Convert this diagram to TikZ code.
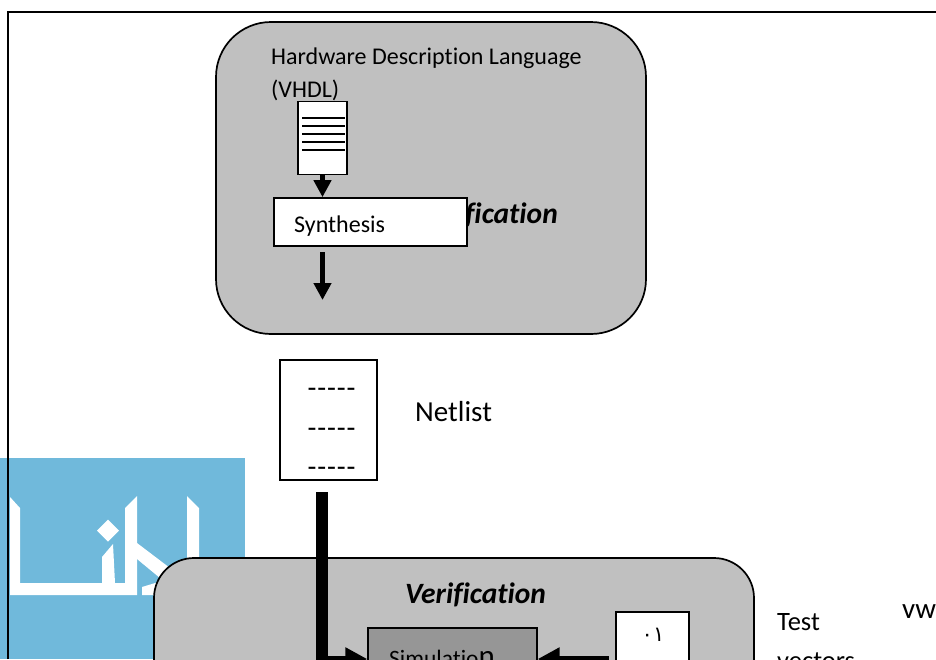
\documentclass[tikz,border=0pt]{standalone}
\usepackage{fontspec}
\setmainfont[Ligatures={NoCommon}]{Carlito}
\newfontfamily\arabicfont[Script=Arabic]{DejaVu Sans}
\usetikzlibrary{arrows.meta}
\definecolor{panelgray}{HTML}{C0C0C0}
\definecolor{simgray}{HTML}{969696}
\definecolor{markblue}{HTML}{70B9DB}
\newcommand{\dashrow}{-\kern0.9pt-\kern0.9pt-\kern0.9pt-\kern0.9pt-}
\tikzset{
  panel/.style={draw=black,line width=1.7pt,fill=panelgray,rounded corners=#1,inner sep=0pt},
  whitebox/.style={draw=black,line width=1.7pt,fill=white,inner sep=0pt},
  label/.style={anchor=base west,inner sep=0pt,text=black},
  docline/.style={line width=1.3pt,black},
  smallarrow/.style={line width=5.5pt,-{Triangle[length=17pt,width=17pt]},black,shorten >=0pt},
  thickarrow/.style={line width=6pt,-{Triangle[length=22pt,width=22pt]},black}
}
\begin{document}
\begin{tikzpicture}[x=1pt,y=-1pt]
\useasboundingbox (0,0) rectangle (936,659);
\clip (0,0) rectangle (936,659);
\fill[white] (0,0) rectangle (936,659);
% watermark
\fill[markblue] (0,458) rectangle (245,659);
\fill[white] (10,497) -- (20,508) -- (20,583) -- (102,583) -- (102,557) -- (113,544) -- (115,583) -- (125,583) -- (125,508) -- (137,496) -- (137,595) -- (10,595) -- cycle;
\fill[white] (137,543) -- (170,568) -- (160,578) -- (137,559) -- cycle;
\fill[white] (142,587) -- (165,580) -- (165,595) -- (142,595) -- cycle;
\fill[white] (187,496) -- (199,508) -- (199,600) -- (187,600) -- cycle;
\fill[white] (108,519.5) -- (119,530.5) -- (108,541.5) -- (97,530.5) -- cycle;
% frame
\draw[line width=1.4pt] (8,659) -- (8,12) -- (936,12);
% upper panel
\node[panel=55pt,minimum width=430pt,minimum height=312pt] (hdlpanel) at (431,178) {};
\node[label] (hdltitle) at (271,64) {\fontsize{24pt}{24pt}\selectfont Hardware Description Language};
\node[label] (hdlsub) at (271,97) {\fontsize{24pt}{24pt}\selectfont (VHDL)};
\node[label,anchor=base east] (hiddenverif) at (558,223) {\fontsize{29.5pt}{30pt}\selectfont\bfseries\itshape Verification};
\node[whitebox,minimum width=49pt,minimum height=73pt] (doc) at (322.5,138) {};
\foreach \ly in {118,126,134,142,150} \draw[docline] (302,\ly) -- (345,\ly);
\node[whitebox,minimum width=193pt,minimum height=48pt] (synth) at (370.5,222) {};
\node[label] (synthlabel) at (294,232) {\fontsize{24pt}{24pt}\selectfont Synthesis};
\draw[smallarrow] (doc.south) -- (doc.south |- synth.north);
\coordinate (synthout) at (322.5,252);
\coordinate (synthtip) at (322.5,300);
\draw[smallarrow] (synthout) -- (synthtip);
% netlist
\node[whitebox,minimum width=97pt,minimum height=120pt] (netlist) at (328.5,420) {};
\node[inner sep=0pt,anchor=base] (d1) at (331.5,397) {\fontsize{29pt}{30pt}\selectfont \dashrow};
\node[inner sep=0pt,anchor=base] (d2) at (331.5,437) {\fontsize{29pt}{30pt}\selectfont \dashrow};
\node[inner sep=0pt,anchor=base] (d3) at (331.5,476) {\fontsize{29pt}{30pt}\selectfont \dashrow};
\node[label] (netlistlabel) at (415,421) {\fontsize{29pt}{30pt}\selectfont Netlist};
% lower panel
\node[panel=40pt,minimum width=600pt,minimum height=300pt] (verifpanel) at (454,708) {};
\node[label] (veriflabel) at (405,603) {\fontsize{29.5pt}{30pt}\selectfont\bfseries\itshape Verification};
\node[draw=black,line width=1.4pt,fill=simgray,inner sep=0pt,minimum width=169pt,minimum height=80pt] (sim) at (452.5,668) {};
\node[label] (simlabel) at (389,666) {\fontsize{23.5pt}{24pt}\selectfont Simulatio\fontsize{31pt}{30pt}\selectfont n};
\node[whitebox,minimum width=73pt,minimum height=90pt] (vectors) at (652.5,657) {};
\node[inner sep=0pt,anchor=base] (digits) at (653,641) {\fontsize{21pt}{22pt}\arabicfont ٠١};
\coordinate (netstart) at (netlist.south |- 0,492);
\fill[black] (316,492) rectangle (328,665);
\coordinate (netbend) at (322,659);
\draw[thickarrow] (netbend) -- (netbend -| sim.west);
\draw[thickarrow,shorten <=6pt] (vectors.west |- 0,659) -- (sim.east |- 0,659);
\node[label] (testlabel) at (777,630) {\fontsize{26.5pt}{28pt}\selectfont Test};
\node[label] (vectorslabel) at (777,669) {\fontsize{26.5pt}{28pt}\selectfont vectors};
\node[label] (wwlabel) at (902,618) {\fontsize{29pt}{28pt}\selectfont vw};
\end{tikzpicture}
\end{document}
